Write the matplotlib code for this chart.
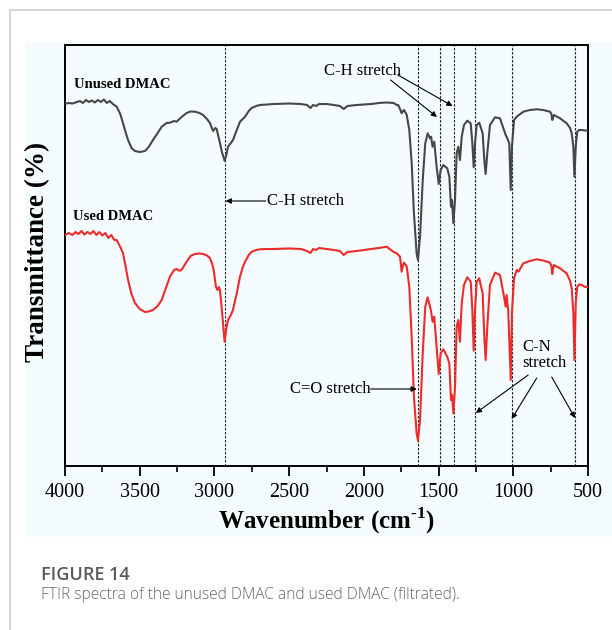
import matplotlib
matplotlib.use("Agg")
import matplotlib.pyplot as plt
from matplotlib.patches import Rectangle
from matplotlib.lines import Line2D
from matplotlib.ticker import MultipleLocator

serif = "Liberation Serif"
plt.rcParams["mathtext.fontset"] = "custom"
plt.rcParams["mathtext.rm"] = serif + ":bold"
plt.rcParams["mathtext.bf"] = serif + ":bold"

# ---------------- data (transmittance in arbitrary units, offset spectra) ----------------
wn_unused = [4000, 3975, 3950, 3920, 3900, 3880, 3860, 3840, 3820, 3800, 3780, 3760, 3740, 3720,
             3700, 3680, 3654, 3630, 3612, 3595, 3578, 3555, 3532, 3500, 3465, 3440, 3411, 3380,
             3353, 3320, 3298, 3270, 3253, 3220, 3186, 3160, 3130, 3100, 3076, 3050, 3030, 3015,
             3008, 2995, 2985, 2963, 2950, 2932, 2922, 2909, 2890, 2876, 2850, 2829, 2795, 2770,
             2751, 2720, 2695, 2650, 2600, 2500, 2420, 2380, 2357, 2340, 2320, 2300, 2250, 2200,
             2160, 2135, 2110, 2050, 2000, 1950, 1900, 1850, 1825, 1800, 1780, 1770, 1755, 1747,
             1738, 1731, 1720, 1713, 1696, 1680, 1665, 1647, 1638, 1624, 1606, 1589, 1573, 1557,
             1550, 1540, 1529, 1513, 1499, 1486, 1468, 1442, 1428, 1417, 1410, 1401, 1390, 1379,
             1368, 1357, 1345, 1330, 1308, 1285, 1274, 1265, 1256, 1245, 1228, 1205, 1194, 1185,
             1174, 1156, 1122, 1089, 1062, 1051, 1040, 1027, 1017, 1009, 995, 977, 933, 890,
             843, 800, 754, 745, 739, 733, 728, 687, 643, 620, 609, 598, 591, 582, 572, 560,
             542, 520, 500]
T_unused = [362, 363, 362.5, 364, 365, 363, 366, 364, 365.5, 363.5, 366, 364, 366.5, 363,
            365, 362, 359.3, 352, 343, 334, 326, 318, 315, 314, 315, 319, 326, 333,
            339.3, 343, 343.3, 345, 344.3, 349, 353, 354.5, 354.3, 353, 351, 347, 343, 337,
            335, 338, 337, 323, 314, 305.3, 310, 319.3, 323, 326, 336, 344.3, 349.3, 355,
            358, 360, 361, 361.5, 362, 362.5, 362, 361, 358, 361, 360, 362, 362, 361,
            360, 357, 360, 361, 361.5, 362, 363, 363.5, 363.3, 363, 361, 361, 356, 352.7,
            355, 356, 353, 351, 336, 303, 253, 213, 206, 229.3, 286, 322.7, 332.7, 327.7,
            329.3, 319.3, 324.3, 299.3, 282, 296, 301, 297.7, 289.3, 259.3, 266, 242.7, 266, 312.7,
            319.3, 306, 329.3, 341, 345.3, 342.7, 322.7, 298.7, 322.7, 341, 343.3, 332.7, 306, 292,
            312.7, 341, 348.7, 347.7, 336, 331, 327.7, 322.7, 276, 319.3, 346, 349.3, 354.3, 356,
            356.7, 356, 354.3, 352, 346, 349, 351, 347.7, 342.7, 338, 332.7, 319.3, 289.3, 319.3, 334.3, 336,
            336, 335.5, 335.3]

wn_used = [4000, 3975, 3950, 3930, 3910, 3890, 3870, 3850, 3830, 3810, 3790, 3770, 3750, 3730,
           3710, 3690, 3670, 3654, 3630, 3612, 3595, 3578, 3555, 3532, 3500, 3465, 3440, 3411,
           3380, 3353, 3325, 3298, 3270, 3253, 3235, 3220, 3186, 3160, 3130, 3100, 3076, 3050,
           3030, 3015, 3005, 2990, 2980, 2970, 2963, 2950, 2932, 2920, 2909, 2890, 2876, 2850,
           2829, 2810, 2795, 2770, 2751, 2720, 2695, 2650, 2608, 2500, 2420, 2380, 2357, 2340,
           2320, 2300, 2250, 2200, 2160, 2135, 2110, 2050, 2000, 1950, 1900, 1847, 1825, 1800,
           1780, 1758, 1747, 1738, 1731, 1720, 1713, 1696, 1680, 1665, 1647, 1638, 1624, 1606,
           1589, 1573, 1557, 1550, 1540, 1529, 1513, 1499, 1486, 1468, 1442, 1428, 1417, 1410,
           1401, 1390, 1379, 1368, 1357, 1345, 1330, 1308, 1285, 1274, 1265, 1256, 1245, 1228,
           1205, 1194, 1185, 1174, 1156, 1122, 1089, 1062, 1051, 1045, 1034, 1017, 1009, 995,
           977, 965, 933, 890, 843, 800, 754, 745, 739, 733, 728, 687, 643, 620, 609, 598,
           591, 582, 572, 560, 542, 520, 500]
T_used = [231, 233, 231, 234, 232, 235, 231.5, 234, 232, 235, 231, 234, 230.5, 233,
          228, 231, 226, 226, 219, 213, 200, 186, 172, 163, 157, 154, 154.5, 156,
          160, 166, 178, 189.3, 196, 197, 195.3, 196, 204.3, 210, 212, 212.5, 212, 210.5,
          208, 202, 196, 179.3, 176, 179, 176, 156, 124.3, 138, 146, 151, 156, 173,
          189.3, 199, 204.3, 211, 214.3, 216, 216.7, 217, 217, 217.5, 217, 215, 213, 217,
          216, 218, 217, 216, 215, 211, 214, 215, 216, 217, 218, 219.3, 216.7, 214,
          212.7, 209.3, 194.3, 201, 203.3, 201, 199.3, 179.3, 129.3, 69.3, 32.7, 25.3, 46, 112.7,
          159.3, 168.7, 159.3, 154.3, 144.3, 149.3, 119.3, 92, 112.7, 116.7, 109.3, 102.7, 66, 71,
          52.7, 79.3, 139.3, 146, 124.3, 162.7, 181, 188.7, 184.3, 156, 115.3, 156, 184.3, 187.7,
          172.7, 129.3, 106, 139.3, 181, 193.3, 191, 169.3, 159.3, 171, 156, 86, 152.7, 187.7,
          196, 194.3, 202.7, 205, 206.7, 205.5, 203.3, 200, 192, 198, 201, 197.7, 192.7, 185, 177.7, 152.7,
          106, 162.7, 179.3, 181.5, 181, 179, 179.3]

peak_lines = [2930, 1640, 1490, 1400, 1255, 1010, 587]
xticks_major = [4000, 3500, 3000, 2500, 2000, 1500, 1000, 500]

# ---------------- figure ----------------
W, H = 612, 630
fig = plt.figure(figsize=(W / 100, H / 100), dpi=100)
fig.patch.set_facecolor("white")

bg = "#f5fcfd"
fig.patches.append(Rectangle((26 / W, 1 - 537 / H), (W - 26) / W, (537 - 42) / H,
                             transform=fig.transFigure, facecolor=bg, edgecolor="none",
                             zorder=-5))
fig.lines.append(Line2D([10 / W, 1], [1 - 10 / H, 1 - 10 / H], transform=fig.transFigure,
                        color="#cfcfcf", lw=1.2, zorder=-4))
fig.lines.append(Line2D([10 / W, 10 / W], [1 - 10 / H, 0], transform=fig.transFigure,
                        color="#cfcfcf", lw=1.2, zorder=-4))

left, right, top, bottom = 65, 588, 45, 466
ax = fig.add_axes([left / W, 1 - bottom / H, (right - left) / W, (bottom - top) / H])
ax.set_facecolor(bg)

ax.plot(wn_unused, T_unused, color="#474747", lw=1.5, zorder=3)
ax.plot(wn_used, T_used, color="#ee2b2b", lw=1.5, zorder=3)

for p in peak_lines:
    ax.axvline(p, color="#222222", lw=0.8, linestyle=(0, (2.2, 1.4)), zorder=2)

ax.set_xlim(4000, 500)
ax.set_ylim(0, 421)
ax.set_yticks([])
ax.set_xticks(xticks_major)
ax.xaxis.set_minor_locator(MultipleLocator(250))
ax.tick_params(axis="x", which="major", direction="out", length=7, width=1.3, pad=5,
               labelsize=14.5)
ax.tick_params(axis="x", which="minor", direction="out", length=4, width=1.2)
for lab in ax.get_xticklabels():
    lab.set_fontfamily(serif)
for s in ax.spines.values():
    s.set_linewidth(1.4)
    s.set_color("black")

ax.set_xlabel(r"Wavenumber (cm$^{\text{-1}}$)", fontfamily=serif, fontweight="bold",
              fontsize=18, labelpad=3)
fig.text(38 / W, 1 - 252 / H, "Transmittance (%)", rotation=90, ha="center", va="center",
         fontfamily=serif, fontweight="bold", fontsize=19.5)

# sample labels
ax.text(3940, 466 - 85, "Unused DMAC", fontfamily=serif, fontweight="bold", fontsize=10.5,
        ha="left", va="center")
ax.text(3945, 466 - 216, "Used DMAC", fontfamily=serif, fontweight="bold", fontsize=10.5,
        ha="left", va="center")

arrow = dict(arrowstyle="-|>", color="black", lw=0.8, mutation_scale=8, shrinkA=0, shrinkB=0)
fs = 12
# C-H stretch (top)
ax.text(2006, 395, "C-H stretch", fontfamily=serif, fontsize=fs, ha="center", va="center")
ax.annotate("", xy=(1511, 349), xytext=(1821, 386), arrowprops=arrow)
ax.annotate("", xy=(1407, 360), xytext=(1772, 391), arrowprops=arrow)
# C-H stretch (2930)
ax.text(2650, 265, "C-H stretch", fontfamily=serif, fontsize=fs, ha="left", va="center")
ax.annotate("", xy=(2925, 265), xytext=(2657, 265), arrowprops=arrow)
# C=O stretch
ax.text(1955, 77, "C=O stretch", fontfamily=serif, fontsize=fs, ha="right", va="center")
ax.annotate("", xy=(1646, 77), xytext=(1955, 77), arrowprops=arrow)
# C-N stretch
ax.text(942, 111, "C-N\nstretch", fontfamily=serif, fontsize=fs, ha="left", va="center",
        linespacing=1.05)
ax.annotate("", xy=(1250, 53), xytext=(900, 91), arrowprops=arrow)
ax.annotate("", xy=(1011, 47), xytext=(843, 88), arrowprops=arrow)
ax.annotate("", xy=(587, 48), xytext=(743, 89), arrowprops=arrow)

# caption
fig.text(41 / W, 1 - 575 / H, "FIGURE 14", fontfamily="Open Sans", fontweight="semibold",
         fontsize=13, color="#5a5a5a", ha="left", va="center")
fig.text(41 / W, 1 - 595 / H, "FTIR spectra of the unused DMAC and used DMAC (filtrated).",
         fontfamily="Open Sans", fontweight="light", fontsize=11.2, color="#666666",
         ha="left", va="center")

fig.savefig("out.png", dpi=100, facecolor="white")
